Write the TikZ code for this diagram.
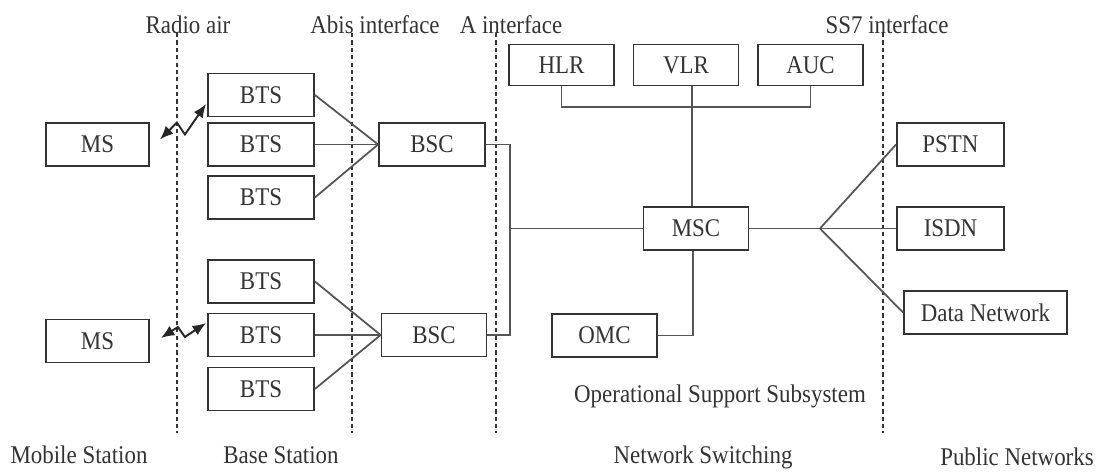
\documentclass[tikz,border=0pt]{standalone}
\usepackage{fontspec}
\setmainfont{Liberation Serif}[FakeStretch=0.9]
\usetikzlibrary{arrows.meta,calc}
\definecolor{ink}{HTML}{333333}
\definecolor{wire}{HTML}{555555}
\tikzset{
  box/.style={draw=ink, line width=1.05pt, rectangle, minimum height=0.86cm,
              minimum width=2.1cm, inner sep=0pt, text=ink,
              font=\fontsize{14.5}{16}\selectfont},
  lbl/.style={text=ink, inner sep=0pt, font=\fontsize{14.5}{16}\selectfont},
  link/.style={draw=wire, line width=1pt},
  border/.style={draw=ink, line width=1.1pt, dash pattern=on 2.4pt off 1.8pt},
  radio/.style={draw=black!85, line width=1.1pt,
                {Latex[length=0.27cm,width=0.22cm]}-{Latex[length=0.27cm,width=0.22cm]}}
}
\begin{document}
\begin{tikzpicture}[x=0.02cm, y=-0.02cm]
\useasboundingbox[fill=white] (0,0) rectangle (1099,473);

% interface borders
\foreach \xx/\nm in {177/ra, 352/ab, 496/ai, 883/ss}{
  \coordinate (\nm top) at (\xx,33);
  \coordinate (\nm bot) at (\xx,433);
  \draw[border] (\nm top) -- (\nm bot);
}

% interface captions
\node[lbl] (lra) at (188,25) {Radio air};
\node[lbl] (lab) at (375,25) {Abis interface};
\node[lbl] (lai) at (511,25) {A interface};
\node[lbl] (lss) at (887,25) {SS7 interface};

% mobile stations
\node[box, minimum width=2.06cm] (ms1) at (97.5,144.5) {MS};
\node[box, minimum width=2.06cm] (ms2) at (97.5,341) {MS};

% base transceiver stations
\node[box, minimum width=2.12cm] (bts1) at (261,95) {BTS};
\node[box, minimum width=2.12cm] (bts2) at (261,144.5) {BTS};
\node[box, minimum width=2.12cm] (bts3) at (261,197.5) {BTS};
\node[box, minimum width=2.12cm] (bts4) at (261,281.5) {BTS};
\node[box, minimum width=2.12cm] (bts5) at (261,335) {BTS};
\node[box, minimum width=2.12cm] (bts6) at (261,389) {BTS};

% base station controllers
\node[box, minimum width=2.12cm] (bsc1) at (432,144.5) {BSC};
\node[box, minimum width=2.1cm] (bsc2) at (434,335) {BSC};

% switching subsystem
\node[box, minimum height=0.82cm] (hlr) at (561.5,65) {HLR};
\node[box, minimum height=0.82cm] (vlr) at (686,65) {VLR};
\node[box, minimum height=0.82cm] (auc) at (810.5,65) {AUC};
\node[box] (msc) at (696,228.5) {MSC};
\node[box] (omc) at (604.5,335.5) {OMC};

% public networks
\node[box, minimum width=2.14cm] (pstn) at (950.5,144.5) {PSTN};
\node[box, minimum width=2.14cm] (isdn) at (950.5,228.5) {ISDN};
\node[box, minimum width=3.26cm] (dnet) at (985.5,312.5) {Data Network};

% section captions
\node[lbl] (cms) at (79,455) {Mobile Station};
\node[lbl] (cbs) at (281,455) {Base Station};
\node[lbl] (coss) at (720,396) {Operational Support Subsystem};
\node[lbl] (cns) at (703,457) {Network Switching};
\node[lbl] (cpn) at (1017,457) {Public Networks};

% radio links
\draw[radio] ($(ms1.east)+(10,-5)$) -- ++(17,-17) -- ++(8,12) -- ($(bts1.west)+(-1,9)$);
\draw[radio] ($(ms2.east)+(11,-3)$) -- ++(17,-11) -- ++(7,10) -- ($(bts5.west)+(-1,-12)$);

% Abis links
\foreach \b in {bts1,bts2,bts3}{ \draw[link] (\b.east) -- (bsc1.west); }
\foreach \b in {bts4,bts5,bts6}{ \draw[link] (\b.east) -- (bsc2.west); }

% A interface trunk
\coordinate (trunk) at (510,228.5);
\draw[link] (bsc1.east) -| (trunk) |- (bsc2.east);
\draw[link] (trunk) -- (msc.west);

% registers bus
\coordinate (hub) at (692,107);
\draw[link] (hlr.south) |- (auc.south |- hub) -- (auc.south);
\draw[link] (vlr.south -| hub) -- (msc.north -| hub);

% operation and maintenance
\coordinate (omtap) at (693,0);
\draw[link] (msc.south -| omtap) |- (omc.east);

% SS7 fan-out
\coordinate (fan) at (820,228.5);
\draw[link] (msc.east) -- (fan);
\draw[link] (fan) -- (pstn.west);
\draw[link] (fan) -- (isdn.west);
\draw[link] (fan) -- (dnet.west);
\end{tikzpicture}
\end{document}
